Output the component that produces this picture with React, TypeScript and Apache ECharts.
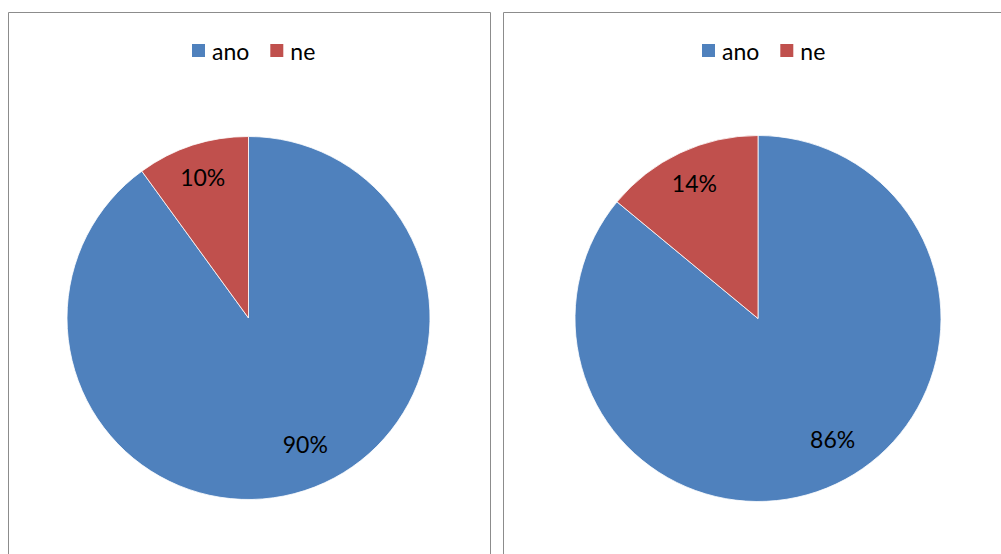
import React, { useEffect, useRef } from "react";
import * as echarts from "echarts";

const categories = ["ano", "ne"];
const leftValues = [90, 10];
const rightValues = [86, 14];
const colors = ["#4F81BD", "#C0504D"];

const FONT = "Lato, 'Open Sans', sans-serif";

export default function App() {
  const ref = useRef<HTMLDivElement>(null);
  useEffect(() => {
    if (!ref.current) return;
    const chart = echarts.init(ref.current, undefined, { renderer: "svg" });
    const mk = (vals: number[]) => categories.map((n, i) => ({ name: n, value: vals[i] }));
    const mkLabelled = (vals: number[]) =>
      categories.map((n, i) => ({
        name: n,
        value: vals[i],
        label: i === 0 ? { offset: [11, -15] } : {},
      }));
    const pieBase = (center: number[], r: number, vals: number[]) => [
      {
        type: "pie",
        center,
        radius: [0, r],
        startAngle: 90,
        clockwise: true,
        silent: true,
        label: { show: false },
        labelLine: { show: false },
        itemStyle: { borderColor: "#ffffff", borderWidth: 0.8 },
        data: mk(vals),
      },
      {
        type: "pie",
        center,
        radius: [r * 0.6, r],
        startAngle: 90,
        clockwise: true,
        silent: true,
        itemStyle: { color: "rgba(0,0,0,0)" },
        label: {
          show: true,
          position: "inside",
          formatter: "{c}%",
          color: "#000",
          fontFamily: FONT,
          fontSize: 23,
        },
        labelLine: { show: false },
        data: mkLabelled(vals),
      },
    ];
    const legendBase = (left: number) => ({
      left,
      top: 39,
      padding: 0,
      orient: "horizontal",
      icon: "rect",
      itemWidth: 15,
      itemHeight: 15,
      itemGap: 19,
      selectedMode: false,
      data: categories,
      textStyle: { fontFamily: FONT, fontSize: 23, color: "#000", padding: [2, 0, 0, 1] },
    });
    chart.setOption({
      animation: false,
      color: colors,
      legend: [legendBase(190), legendBase(700)],
      graphic: [
        {
          type: "rect",
          shape: { x: 8.5, y: 12.5, width: 482, height: 600 },
          style: { fill: "none", stroke: "#8c8c8c", lineWidth: 1 },
          silent: true,
        },
        {
          type: "rect",
          shape: { x: 503.5, y: 12.5, width: 600, height: 600 },
          style: { fill: "none", stroke: "#8c8c8c", lineWidth: 1 },
          silent: true,
        },
      ],
      series: [
        ...pieBase([248.5, 318], 181.5, leftValues),
        ...pieBase([758, 318.5], 183, rightValues),
      ],
    });
    return () => chart.dispose();
  }, []);
  return (
    <div
      ref={ref}
      style={{ position: "fixed", left: 0, top: 0, width: 1001, height: 554, background: "#fff" }}
    />
  );
}
